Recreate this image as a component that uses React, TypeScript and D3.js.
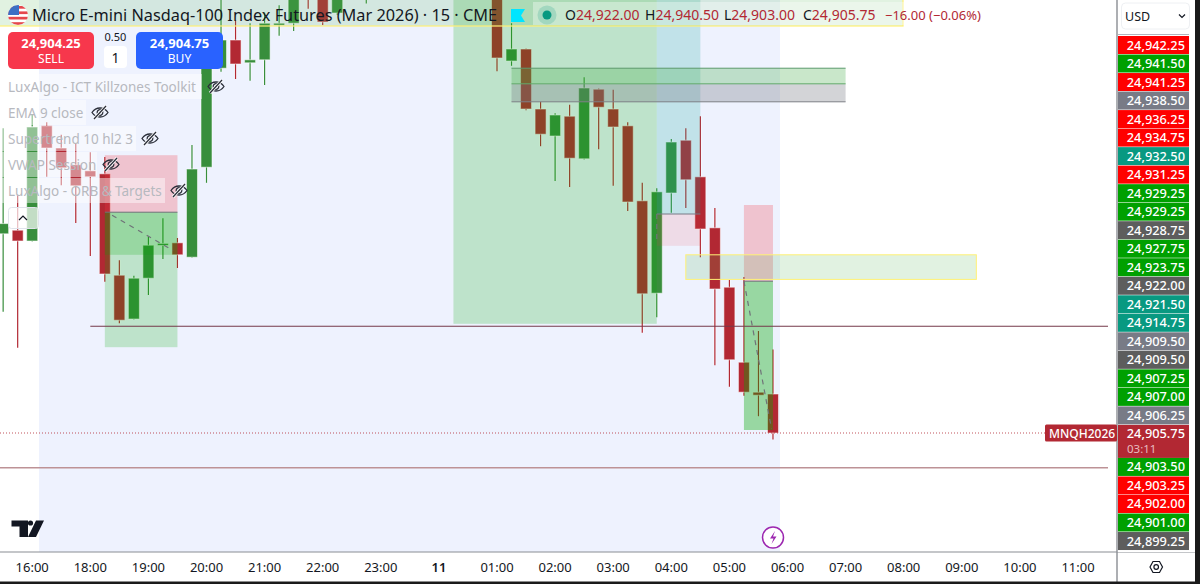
import React from "react";
import * as d3 from "d3";

const FONT = "'Noto Sans', sans-serif";
const W = 1200, H = 584;

// candle data: [slot (15-min bars from 16:00), open, high, low, close]
const candles: number[][] = [
  [-2, 24988.75, 25032.75, 24956.25, 24993.0],
  [-1, 24990.25, 25005, 24941.25, 24985.75],
  [0, 24985.75, 25038.25, 24985.5, 25033.25],
  [1, 25033.75, 25035.25, 25012.5, 25024.5],
  [2, 25024.5, 25030, 25009, 25016.25],
  [3, 25017.5, 25026.5, 24993.25, 25008.75],
  [4, 25015, 25022.75, 24979.5, 25012.5],
  [5, 25013.75, 25020.75, 24968.75, 24972],
  [6, 24971.5, 24977.75, 24951.5, 24952.75],
  [7, 24953.25, 24971.25, 24953, 24970.25],
  [8, 24970.25, 24987.5, 24963.25, 24984],
  [9, 24984, 24995.25, 24978.25, 24984.75],
  [10, 24985, 24987, 24974.5, 24980],
  [11, 24979, 25025.75, 24978.75, 25015.75],
  [12, 25016.5, 25064.5, 25010, 25057.75],
  [13, 25057.75, 25088.25, 25056.25, 25069.5],
  [14, 25069.5, 25077.75, 25053.25, 25059.5],
  [15, 25060, 25076.5, 25052.5, 25061.25],
  [16, 25061.25, 25081, 25050.75, 25076.5],
  [17, 25075.75, 25084, 25071.25, 25076.5],
  [18, 25076.5, 25095, 25073.25, 25090.25],
  [19, 25105, 25110, 25082.5, 25095],
  [20, 25095, 25100, 25075.75, 25077],
  [21, 25080.75, 25100, 25080, 25095],
  [23, 25095, 25100, 25084.75, 25098],
  [32, 25100, 25105, 25056.5, 25062],
  [33, 25060.75, 25076.5, 25058.75, 25065.75],
  [34, 25065.75, 25066, 25040.25, 25040.75],
  [35, 25040.75, 25043.75, 25025.25, 25030.25],
  [36, 25029.5, 25039, 25010.75, 25038.25],
  [37, 25037.75, 25042.5, 25008.25, 25020.25],
  [38, 25020, 25054, 25019.75, 25049.5],
  [39, 25049, 25049.25, 25024, 25041.5],
  [40, 25040.75, 25048.75, 25008.75, 25033.25],
  [41, 25033.75, 25035.25, 24998.25, 25002],
  [42, 25002.5, 25010, 24947.5, 24963.75],
  [43, 24964, 25007.75, 24954, 25006.25],
  [44, 25005.75, 25028.25, 24997.5, 25027],
  [45, 25027.75, 25032.75, 24999.5, 25011.25],
  [46, 25012.5, 25037.75, 24979, 24990.75],
  [47, 24991.25, 24999.5, 24934, 24965.75],
  [48, 24966.5, 24969.5, 24925, 24936.25],
  [49, 24935.25, 24970.75, 24921.25, 24922.75],
  [50, 24922.75, 24948.25, 24912.75, 24921.5],
  [51, 24922, 24940.5, 24903, 24905.75],
];

const timeSlots = [0, 4, 8, 12, 16, 20, 24, 28, 32, 36, 40, 44, 48, 52, 56, 60, 64, 68, 72];
const timeLabels = ["16:00", "18:00", "19:00", "20:00", "21:00", "22:00", "23:00", "11", "01:00", "02:00", "03:00", "04:00", "05:00", "06:00", "07:00", "08:00", "09:00", "10:00", "11:00"];

const priceLabels = [24942.25, 24941.5, 24941.25, 24938.5, 24936.25, 24934.75, 24932.5, 24931.25, 24929.25, 24929.25, 24928.75, 24927.75, 24923.75, 24922, 24921.5, 24914.75, 24909.5, 24909.5, 24907.25, 24907, 24906.25, 24905.75, 24903.5, 24903.25, 24902, 24901, 24899.25];
const priceKinds = ["r", "g", "r", "s", "r", "r", "t", "r", "g", "g", "d", "g", "g", "d", "t", "t", "s", "d", "g", "g", "s", "c", "g", "r", "r", "g", "d"];
const kindColor: Record<string, string> = { r: "#ff0000", g: "#00a000", s: "#787b86", d: "#5d5d5d", t: "#089981", c: "#b22833" };

const indicators = ["LuxAlgo - ICT Killzones Toolkit", "EMA 9 close", "Supertrend 10 hl2 3", "VWAP Session", "LuxAlgo - ORB & Targets"];
const indicatorEyes = [216, 100, 150, 111, 179];

const lastPrice = 24905.75;
const hLine1 = 24950.25;
const hLine2 = 24891.25;
const topPrice = 25086.17;

const GREEN = "rgba(0,170,0,0.2)";
const PINK = "rgba(242,54,69,0.25)";

const x = d3.scaleLinear().domain([0, 72]).range([32.2, 1078]);
const y = d3.scaleLinear().domain([lastPrice, topPrice]).range([433, 0]);
const money = d3.format(",.2f");

function Zone({ s0, s1, p0, p1, fill, stroke }: { s0: number; s1: number; p0: number; p1: number; fill: string; stroke?: string }) {
  return <rect x={x(s0)} width={x(s1) - x(s0)} y={y(p0)} height={y(p1) - y(p0)} fill={fill} stroke={stroke} />;
}

function TradeLine({ a, b }: { a: number[]; b: number[] }) {
  const line = d3.line<number[]>().x((d) => x(d[0])).y((d) => y(d[1]));
  return <path d={line([a, b]) || ""} fill="none" stroke="#6f7378" strokeWidth={1.2} strokeDasharray="5 5" />;
}

function Eye({ cx, cy }: { cx: number; cy: number }) {
  return (
    <g transform={`translate(${cx},${cy})`} fill="none" stroke="#2a2e39" strokeWidth={1.3}>
      <path d="M-8 0 C-4 -6 4 -6 8 0 C4 6 -4 6 -8 0 Z" />
      <circle r={2.8} />
      <path d="M-6 6.5 L6 -6.5" stroke="#fff" strokeWidth={3} />
      <path d="M-6 6.5 L6 -6.5" />
    </g>
  );
}

export default function App() {
  return (
    <svg width={W} height={H} viewBox={`0 0 ${W} ${H}`} style={{ position: "fixed", left: 0, top: 0, fontFamily: FONT }}>
      <defs>
        <clipPath id="pane"><rect x={0} y={0} width={1117} height={552} /></clipPath>
        <clipPath id="flag"><circle cx={18} cy={15} r={10} /></clipPath>
      </defs>
      <rect width={W} height={H} fill="#fff" />

      <g clipPath="url(#pane)">
        {/* session background */}
        <rect x={x(0.47)} y={0} width={x(51.48) - x(0.47)} height={552} fill="#eef2fe" />

        {/* candles */}
        {candles.map(([s, o, h, l, c]) => {
          const up = c >= o;
          const col = up ? "#388e3c" : "#b22833";
          const top = y(Math.max(o, c));
          const bot = y(Math.min(o, c));
          const cx = x(s);
          return (
            <g key={s}>
              <line x1={cx} x2={cx} y1={y(h)} y2={y(l)} stroke="#fff" strokeOpacity={0.5} strokeWidth={3} />
              <line x1={cx} x2={cx} y1={y(h)} y2={y(l)} stroke={col} strokeWidth={1.2} />
              <rect x={cx - 5.5} width={11} y={top} height={Math.max(bot - top, 2)} fill={col} stroke="#fff" strokeOpacity={0.55} strokeWidth={1} />
            </g>
          );
        })}

        {/* big green zone and teal zone */}
        <Zone s0={29} s1={43} p0={25100} p1={24951.25} fill={GREEN} />
        <Zone s0={43} s1={46} p0={25100} p1={24997} fill="rgba(15,165,150,0.2)" />
        <Zone s0={43} s1={46} p0={24997} p1={24983.75} fill="rgba(242,54,69,0.12)" />
        <line x1={x(43)} x2={x(46)} y1={y(24997)} y2={y(24997)} stroke="#787b86" strokeWidth={1} />
        <TradeLine a={[43, 24997]} b={[43, 24984.5]} />

        {/* left trade */}
        <Zone s0={5} s1={10} p0={25021.5} p1={24997.75} fill={PINK} />
        <Zone s0={5} s1={10} p0={24997.75} p1={24941.5} fill={GREEN} />
        <Zone s0={5} s1={10} p0={24997.75} p1={24980} fill={GREEN} />
        <line x1={x(5)} x2={x(10)} y1={y(24997.75)} y2={y(24997.75)} stroke="#6f7378" strokeWidth={1} />
        <TradeLine a={[5.5, 24996.5]} b={[9.7, 24981.75]} />

        {/* right trade */}
        <Zone s0={49} s1={51} p0={25000.75} p1={24969} fill={PINK} />
        <Zone s0={49} s1={51} p0={24969} p1={24907} fill={GREEN} />
        <Zone s0={49} s1={51} p0={24969} p1={24907} fill={GREEN} />
        <line x1={x(49)} x2={x(51)} y1={y(24969)} y2={y(24969)} stroke="#6f7378" strokeWidth={1} />
        <TradeLine a={[49, 24969]} b={[50.9, 24907.5]} />

        {/* horizontal bands */}
        <Zone s0={33} s1={56} p0={25057.75} p1={25051.25} fill="rgba(76,175,80,0.3)" />
        <Zone s0={33} s1={56} p0={25051.25} p1={25043.75} fill="rgba(120,123,134,0.33)" />
        <line x1={x(33)} x2={x(56)} y1={y(25057.75)} y2={y(25057.75)} stroke="#5c9a6c" />
        <line x1={x(33)} x2={x(56)} y1={y(25051.25)} y2={y(25051.25)} stroke="#63ab6b" />
        <line x1={x(33)} x2={x(56)} y1={y(25043.75)} y2={y(25043.75)} stroke="#7e8187" />

        {/* yellow box */}
        <Zone s0={45} s1={65} p0={24980} p1={24969.75} fill="rgba(76,175,80,0.17)" stroke="#fff176" />

        {/* level lines */}
        <line x1={x(4)} x2={1108} y1={y(hLine1)} y2={y(hLine1)} stroke="#74394a" strokeWidth={1.1} />
        <line x1={0} x2={1108} y1={y(hLine2)} y2={y(hLine2)} stroke="#bd9296" strokeWidth={1.6} />
        <line x1={0} x2={1045} y1={y(lastPrice)} y2={y(lastPrice)} stroke="#b22833" strokeOpacity={0.8} strokeDasharray="1 2" />

        {/* header strip */}
        <rect x={-2} y={-4} width={905} height={30} fill="rgba(76,175,80,0.17)" stroke="#fff176" strokeWidth={1.2} />
        <rect x={533} y={2} width={450} height={23} fill="rgba(255,255,255,0.35)" />
      </g>

      {/* legend title */}
      <g clipPath="url(#flag)">
        <rect x={8} y={5} width={20} height={20} fill="#fff" />
        {[0, 1, 2, 3].map((i) => <rect key={i} x={8} y={6 + i * 5.4} width={20} height={2.7} fill="#e5484d" />)}
        <rect x={8} y={5} width={11} height={10} fill="#3d6fc4" />
      </g>
      <text x={32} y={21} fontSize={16.3} fill="#131722">Micro E-mini Nasdaq-100 Index Futures (Mar 2026) · 15 · CME</text>
      <path d="M511 9 H525 L521 15.5 L525 22 H511 Z" fill="#00e5ff" />
      <circle cx={547} cy={15} r={9.5} fill="rgba(8,153,129,0.2)" />
      <circle cx={547} cy={15} r={4.5} fill="#089981" />
      {[["O", "24,922.00", 565], ["H", "24,940.50", 645], ["L", "24,903.00", 724], ["C", "24,905.75", 803]].map(([k, v, px]) => (
        <text key={k as string} x={px as number} y={20} fontSize={14} fill="#b22833">
          <tspan fill="#131722">{k}</tspan>{v}
        </text>
      ))}
      <text x={885} y={20} fontSize={13} fill="#b22833">−16.00 (−0.06%)</text>

      {/* order buttons */}
      <rect x={8} y={32} width={86} height={37} rx={5} fill="#f7374c" />
      <text x={51} y={48} textAnchor="middle" fontSize={13} fontWeight={700} fill="#fff">24,904.25</text>
      <text x={51} y={63} textAnchor="middle" fontSize={12} fill="#fff">SELL</text>
      <text x={115.5} y={41} textAnchor="middle" fontSize={11} fill="#131722">0.50</text>
      <rect x={104} y={46} width={23} height={22} rx={4} fill="#fff" />
      <text x={115.5} y={63} textAnchor="middle" fontSize={14} fill="#131722">1</text>
      <rect x={136} y={32} width={87} height={37} rx={5} fill="#2962ff" />
      <text x={179.5} y={48} textAnchor="middle" fontSize={13} fontWeight={700} fill="#fff">24,904.75</text>
      <text x={179.5} y={63} textAnchor="middle" fontSize={12} fill="#fff">BUY</text>

      {/* indicator legend */}
      {indicators.map((t, i) => (
        <g key={t}>
          <rect x={0} y={74 + i * 26} width={indicatorEyes[i] - 14} height={25} fill="#fff" fillOpacity={0.45} />
          <text x={8} y={92 + i * 26 - 0.5} fontSize={13.5} fill="#b7b9bf">{t}</text>
          <Eye cx={indicatorEyes[i]} cy={86.5 + i * 26} />
        </g>
      ))}
      <rect x={8.5} y={207.5} width={30} height={21} rx={3} fill="#fff" fillOpacity={0.7} stroke="#e0e3eb" />
      <path d="M19 220 L23 216 L27 220" fill="none" stroke="#131722" strokeWidth={1.2} />

      {/* logo and lightning */}
      <path d="M11.5 520.5 H28 V537 H19.5 V526.5 H11.5 Z M36 520.5 H44 L36 537 H28 Z" fill="#131722" />
      <circle cx={30.5} cy={523} r={2.6} fill="#131722" />
      <circle cx={773} cy={537.5} r={10.5} fill="#fff" stroke="#9c27b0" strokeWidth={1.5} />
      <path d="M775 531 L770 538.5 H773.5 L771.5 544 L776.5 536.5 H773 Z" fill="#9c27b0" />

      {/* time axis */}
      <rect x={0} y={552} width={1195} height={30} fill="#fff" />
      <line x1={0} x2={1195} y1={552} y2={552} stroke="#8a8d93" strokeWidth={1.2} />
      {timeSlots.map((s, i) => (
        <text key={s} x={x(s)} y={572} textAnchor="middle" fontSize={13} fontWeight={timeLabels[i] === "11" ? 600 : 400} fill="#131722">{timeLabels[i]}</text>
      ))}

      {/* price axis */}
      <rect x={1117} y={0} width={78} height={552} fill="#fff" />
      <line x1={1117} x2={1117} y1={0} y2={582} stroke="#8a8d93" strokeWidth={1.4} />
      <line x1={1118} x2={1189} y1={34.5} y2={34.5} stroke="#b2b5be" />
      <rect x={1121.5} y={3} width={68} height={26} rx={4} fill="#fff" stroke="#eef0f3" />
      <text x={1125} y={21} fontSize={12.5} fill="#131722">USD</text>
      <path d="M1179 14.5 L1182 17.5 L1185 14.5" fill="none" stroke="#131722" strokeWidth={1.2} />
      {priceLabels.map((p, i) => {
        const cy = 45 + i * 18.52 + (i > 21 ? 14.5 : 0);
        const isLast = priceKinds[i] === "c";
        return (
          <g key={i}>
            <rect x={1118} y={cy - 9} width={71} height={isLast ? 33 : 18} fill={kindColor[priceKinds[i]]} />
            <text x={1185} y={cy + 4.5} textAnchor="end" fontSize={12.8} fontWeight={500} fill="#fff">{money(p)}</text>
            {isLast && <text x={1127} y={cy + 19.5} fontSize={11.5} fill="#e8bcc0">03:11</text>}
          </g>
        );
      })}
      <rect x={1045} y={424.5} width={72} height={17} rx={1.5} fill="#b22833" />
      <text x={1049} y={437.5} fontSize={12} fontWeight={500} fill="#fff">MNQH2026</text>
      <path d="M1150 567 L1153 561.5 H1159.5 L1162.5 567 L1159.5 572.5 H1153 Z" fill="none" stroke="#131722" strokeWidth={1.2} />
      <circle cx={1156.2} cy={567} r={2.3} fill="none" stroke="#131722" strokeWidth={1.2} />

      {/* window frame */}
      <rect x={1195} y={0} width={5} height={H} fill="#1a1a1a" />
      <rect x={0} y={581.5} width={W} height={3} fill="#1a1a1a" />
    </svg>
  );
}
